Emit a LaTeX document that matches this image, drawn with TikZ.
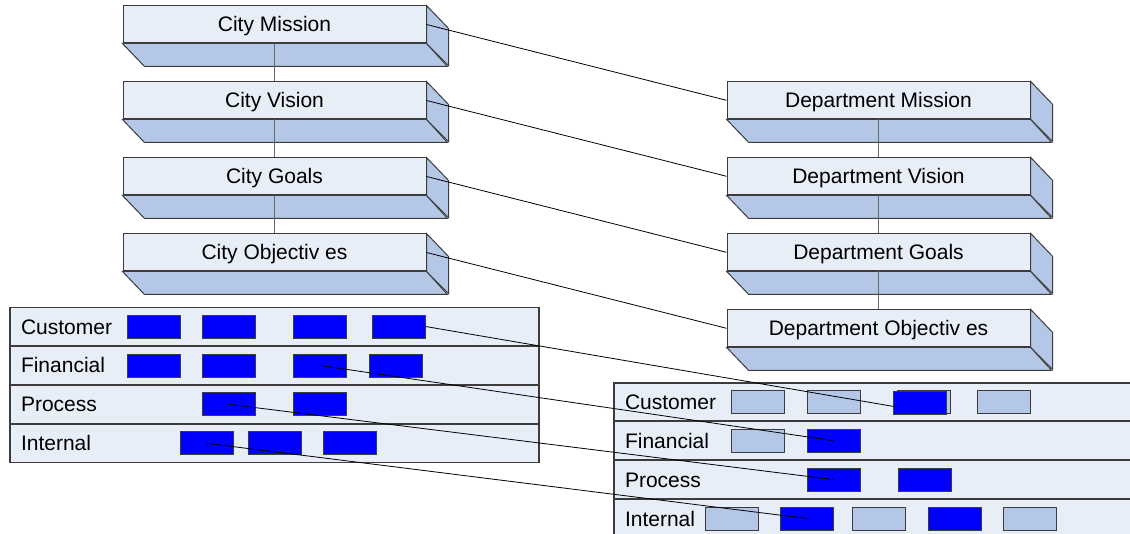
\documentclass[tikz,border=0pt]{standalone}
\usepackage{fontspec}
\setmainfont{Liberation Sans}
\usetikzlibrary{positioning}
\definecolor{FaceTop}{RGB}{231,238,248}
\definecolor{FaceSide}{RGB}{180,199,230}
\definecolor{KpiBlue}{RGB}{0,0,255}
\definecolor{EdgeGray}{RGB}{60,60,60}

\begin{document}
\begin{tikzpicture}[x=1pt, y=-1pt,
        font=\fontsize{21}{25}\selectfont,
        slab/.style={rectangle, draw=EdgeGray, fill=FaceTop, line width=1pt, minimum width=303pt, minimum height=37pt, inner sep=0pt, text height=18pt, text depth=3pt},
        face/.style={draw=EdgeGray, fill=FaceSide, line width=1pt},
        row/.style={rectangle, draw=EdgeGray, fill=FaceTop, line width=1.2pt, minimum height=37.7pt, text width=#1, align=left, inner xsep=11pt, inner ysep=0pt, text height=18pt, text depth=3pt},
        kpi/.style={rectangle, draw=EdgeGray, fill=KpiBlue, line width=0.8pt, minimum width=53pt, minimum height=23pt, inner sep=0pt},
        kpioff/.style={kpi, fill=FaceSide},
        link/.style={black, line width=0.8pt},
        stem/.style={draw=black!60, line width=1pt}
    ]
        \clip (0,0) rectangle (1130,534);

        % city and department boxes
        \node[slab] (cmis) at (274.5,24.5) {City Mission};
        \node[slab, below=38pt of cmis] (cvis) {City Vision};
        \node[slab, below=38pt of cvis] (cgoa) {City Goals};
        \node[slab, below=38pt of cgoa] (cobj) {City Objectiv es};
        \node[slab] (dmis) at (878.5,100.3) {Department Mission};
        \node[slab, below=38pt of dmis] (dvis) {Department Vision};
        \node[slab, below=38pt of dvis] (dgoa) {Department Goals};
        \node[slab, below=38pt of dgoa] (dobj) {Department Objectiv es};

        \foreach \b in {cmis,cvis,cgoa,cobj,dmis,dvis,dgoa,dobj} {
            \filldraw[face] (\b.north east) -- ++(22,23) -- ++(0,37) -- (\b.south east) -- cycle;
            \filldraw[face] (\b.south west) -- ++(22,23) -- ++(303,0) -- (\b.south east) -- cycle;
        }

        \draw[stem] (cmis) -- (cvis);
        \draw[stem] (cvis) -- (cgoa);
        \draw[stem] (cgoa) -- (cobj);
        \draw[stem] (dmis) -- (dvis);
        \draw[stem] (dvis) -- (dgoa);
        \draw[stem] (dgoa) -- (dobj);

        \draw[link] (cmis.east) -- (dmis.west);
        \draw[link] (cvis.east) -- (dvis.west);
        \draw[link] (cgoa.east) -- (dgoa.west);
        \draw[link] (cobj.east) -- (dobj.west);

        % city scorecard
        \node[row=507pt] (lcus) at (274.5,326.6) {Customer};
        \node[row=507pt, below=0pt of lcus] (lfin) {Financial};
        \node[row=507pt, below=0pt of lfin] (lpro) {Process};
        \node[row=507pt, below=0pt of lpro] (lint) {Internal};

        \foreach \x [count=\i] in {154,229.3,320,399.3}
            \node[kpi] (lc\i) at (\x,0 |- lcus) {};
        \foreach \x [count=\i] in {154,229.3,320,395.7}
            \node[kpi] (lf\i) at (\x,0 |- lfin) {};
        \foreach \x [count=\i] in {229.3,320}
            \node[kpi] (lp\i) at (\x,0 |- lpro) {};
        \foreach \x [count=\i] in {206.7,275,350.3}
            \node[kpi] (li\i) at (\x,0 |- lint) {};

        % department scorecard
        \node[row=504pt] (rcus) at (877,401.8) {Customer};
        \node[row=504pt, below=0pt of rcus] (rfin) {Financial};
        \node[row=504pt, below=0pt of rfin] (rpro) {Process};
        \node[row=504pt, below=0pt of rpro] (rint) {Internal};

        \foreach \x [count=\i] in {758,833.5,924.2,1003.5}
            \node[kpioff] (rc\i) at (\x,0 |- rcus) {};
        \node[kpi] (rcb) at (920,402.7) {};
        \node[kpioff] (rf1) at (758,0 |- rfin) {};
        \node[kpi] (rf2) at (833.5,0 |- rfin) {};
        \foreach \x [count=\i] in {833.5,924.5}
            \node[kpi] (rp\i) at (\x,0 |- rpro) {};
        \node[kpioff] (ri1) at (731.5,0 |- rint) {};
        \node[kpi] (ri2) at (807,0 |- rint) {};
        \node[kpioff] (ri3) at (879,0 |- rint) {};
        \node[kpi] (ri4) at (954.5,0 |- rint) {};
        \node[kpioff] (ri5) at (1029.5,0 |- rint) {};

        \draw[link] (lc4.east) -- ([xshift=2pt,yshift=-4pt]rcb.west);
        \draw[link] (lf3.center) -- (rf2.center);
        \draw[link] (lp1.center) -- (rp1.center);
        \draw[link] (li1.center) -- (ri2.center);
    \end{tikzpicture}
\end{document}
